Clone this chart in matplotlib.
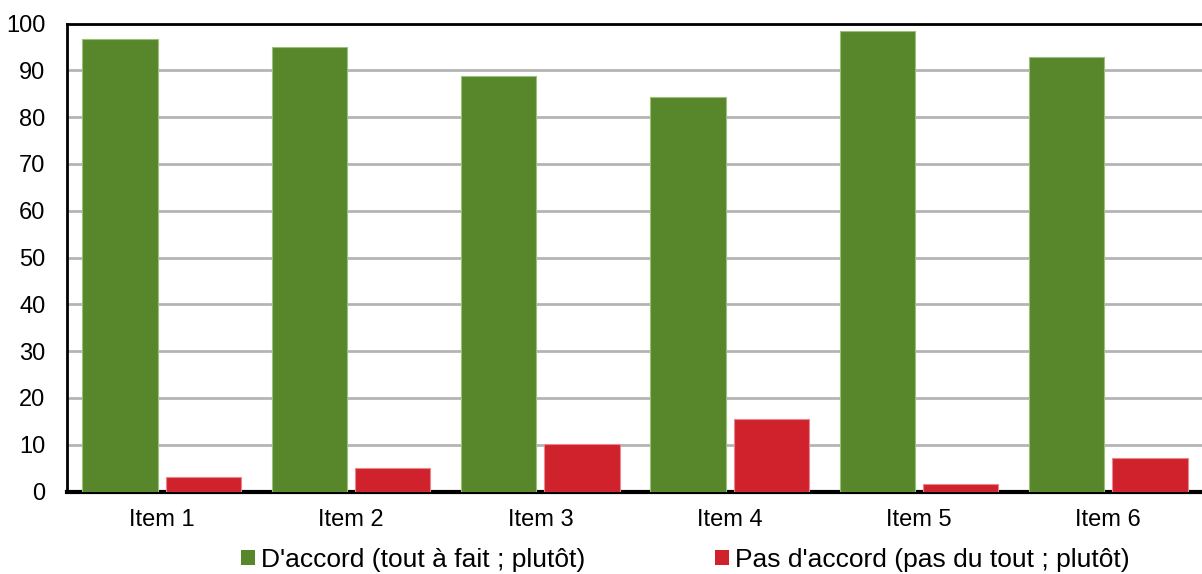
import numpy as np
import matplotlib.pyplot as plt
from matplotlib.patches import Patch

plt.rcParams['font.family'] = ['Liberation Sans', 'DejaVu Sans']

# ------------------------------------------------------------
# DATA
# ------------------------------------------------------------

items = ["Item 1", "Item 2", "Item 3", "Item 4", "Item 5", "Item 6"]

agree = [96.6, 95.0, 88.8, 84.4, 98.3, 92.8]
disagree = [3.2, 5.0, 10.1, 15.5, 1.5, 7.1]

label_agree = "D'accord (tout à fait ; plutôt)"
label_disagree = "Pas d'accord (pas du tout ; plutôt)"

green = "#58862b"
red = "#d0222d"

# ------------------------------------------------------------
# PLOT
# ------------------------------------------------------------

fig = plt.figure(figsize=(12.02, 5.74), dpi=100)
ax = fig.add_axes([67 / 1202, 1 - 491.5 / 574, 1136 / 1202, 468 / 574])

x = np.arange(len(items))
w = 0.399
off = 0.22

ax.bar(x - off, agree, width=w, color=green,
       edgecolor="#9cc07a", linewidth=0.8, zorder=3)
ax.bar(x + off, disagree, width=w, color=red,
       edgecolor="#e8878c", linewidth=0.8, zorder=3)

ax.set_xlim(-0.5, len(items) - 0.5)
ax.set_ylim(0, 100)
ax.set_yticks(np.arange(0, 101, 10))
ax.set_xticks(x)
ax.set_xticklabels(items)

ax.yaxis.grid(True, color="#b4b4b4", linewidth=2, zorder=0)
ax.set_axisbelow(True)

ax.tick_params(axis="both", length=0, labelsize=17)
ax.tick_params(axis="x", pad=12.5)
ax.tick_params(axis="y", pad=15.5)

for side in ["left", "top"]:
    ax.spines[side].set_linewidth(2)
    ax.spines[side].set_color("black")
ax.spines["bottom"].set_linewidth(3)
ax.spines["bottom"].set_color("black")
ax.spines["right"].set_visible(False)

handles = [Patch(facecolor=green, label=label_agree),
           Patch(facecolor=red, label=label_disagree)]

fig.legend(handles=handles, loc="center", bbox_to_anchor=(0.57, 1 - 560 / 574),
           ncol=2, frameon=False, fontsize=19,
           handlelength=0.53, handleheight=0.53, handletextpad=0.23,
           columnspacing=4.9, borderpad=0, borderaxespad=0)

plt.savefig("out.png", dpi=100)
